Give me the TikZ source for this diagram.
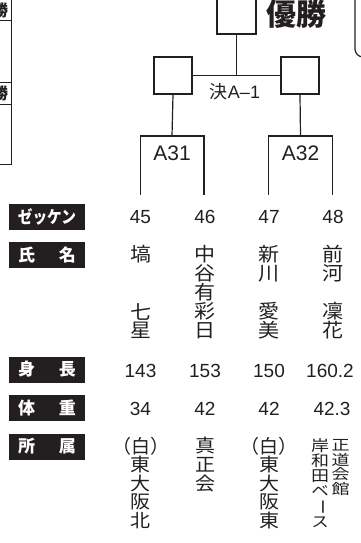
\documentclass[tikz,border=0pt]{standalone}
\usepackage{fontspec}
\setmainfont{Liberation Sans}
\newfontfamily\jp{Noto Sans CJK JP}
\newfontfamily\jpv[RawFeature=+vert]{Noto Sans CJK JP}
\definecolor{ink}{HTML}{231F20}
% name, x, y of first centre, step, font size, vertical scale, list
\newcommand{\vcol}[7]{%
  \foreach \ch [count=\i from 0] in {#7} {%
    \node[vch, font=\jpv\fontsize{#5}{#5}\selectfont] (#1-\i) at (#2, #3+\i*#4) {\scalebox{1}[#6]{\ch}};}}
\newcommand{\vbar}{\rotatebox[origin=c]{-90}{\jp ー}}
\begin{document}
\begin{tikzpicture}[x=1pt,y=-1pt, line width=1.2pt, draw=ink, text=ink,
  sq/.style={draw, minimum width=38pt, minimum height=37pt, inner sep=0pt},
  lab/.style={fill=ink, text=white, minimum width=76pt, minimum height=26pt, inner sep=0pt,
    font=\jp\bfseries\fontsize{17}{17}\selectfont},
  num/.style={inner sep=0pt, font=\fontsize{19}{19}\selectfont},
  vch/.style={inner sep=0pt},
  thin/.style={line width=1pt}]
\useasboundingbox (0,0) rectangle (360,543);

% partial table at the left edge
\draw[thin] (-10,164) -- (11,164) -- (11,-10);
\draw[thin] (-10,21) -- (11,21);
\draw[thin] (-10,82) -- (11,82);
\draw[thin] (-10,104) -- (11,104);
\node[inner sep=0pt, font=\jp\bfseries\fontsize{16}{16}\selectfont] (w1) at (0,10) {勝};
\node[inner sep=0pt, font=\jp\bfseries\fontsize{16}{16}\selectfont] (w2) at (0,93) {勝};

% partial rounded box at the right edge
\draw[rounded corners=8pt] (375,57) -- (355,57) -- (355,-10);

% bracket
\node[sq, minimum width=39pt, minimum height=40pt] (top) at (236.5,14) {};
\node[inner sep=0pt, font=\jp\bfseries\fontsize{30}{30}\selectfont] (yusho) at (296,14) {優勝};
\node[sq] (lbox) at (173,75.5) {};
\node[sq] (rbox) at (300,75.5) {};
\draw (lbox) -- (rbox);
\draw (top.south) -- (top.south |- lbox.east);
\node[inner sep=0pt, font=\fontsize{18}{18}\selectfont] (kesshou) at (235,92) {{\jp 決}A–1};

\coordinate (a31top) at (172,136);
\coordinate (a32top) at (300.5,136);
\draw (lbox.south) -- (a31top);
\draw (rbox.south) -- (a32top);
\coordinate (t45) at (140.5,195);
\coordinate (t46) at (204,195);
\coordinate (t47) at (268.5,195);
\coordinate (t48) at (332.5,195);
\draw (t45) |- (a31top) -| (t46);
\draw (t47) |- (a32top) -| (t48);
\node[inner sep=0pt, font=\fontsize{21}{21}\selectfont] (a31) at (172,153) {A31};
\node[inner sep=0pt, font=\fontsize{21}{21}\selectfont] (a32) at (300.5,153) {A32};

% row labels
\node[lab] (lz) at (47,216.5) {\scalebox{0.86}[1]{ゼッケン}};
\node[lab] (ln) at (47,255) {氏\hspace{24pt}名};
\node[lab] (lh) at (47,369.5) {身\hspace{24pt}長};
\node[lab] (lw) at (47,408) {体\hspace{24pt}重};
\node[lab] (la) at (47,446.5) {所\hspace{24pt}属};

% numbers
\node[num] (n45) at (140.5,217) {45};
\node[num] (n46) at (205,217) {46};
\node[num] (n47) at (269,217) {47};
\node[num] (n48) at (333,217) {48};

% names
\vcol{nm1}{140.5}{254.5}{19}{21}{0.92}{塙,{},{},七,星}
\vcol{nm2}{205}{254.5}{19}{21}{0.92}{中,谷,有,彩,日}
\vcol{nm3}{269}{254.5}{19}{21}{0.92}{新,川,{},愛,美}
\vcol{nm4}{333}{254.5}{19}{21}{0.92}{前,河,{},凜,花}

% height
\node[num] (h1) at (140.5,370.5) {143};
\node[num] (h2) at (205,370.5) {153};
\node[num] (h3) at (269,370.5) {150};
\node[num] (h4) at (330,370.5) {160.2};

% weight
\node[num] (g1) at (140.5,408.5) {34};
\node[num] (g2) at (205,408.5) {42};
\node[num] (g3) at (269,408.5) {42};
\node[num] (g4) at (332,408.5) {42.3};

% affiliation
\node[inner sep=0pt, font=\jp\fontsize{19}{19}\selectfont] (p1) at (140.5,446) {（白）};
\vcol{af1}{140.5}{464.6}{18.6}{20}{0.92}{東,大,阪,北}
\vcol{af2}{205}{446}{18.6}{20}{0.92}{真,正,会}
\node[inner sep=0pt, font=\jp\fontsize{19}{19}\selectfont] (p3) at (269,446) {（白）};
\vcol{af3}{269}{464.6}{18.6}{20}{0.92}{東,大,阪,東}
\vcol{af4a}{320}{445.5}{15.3}{18}{0.85}{岸,和,田,ベ,\vbar,ス}
\vcol{af4b}{340.5}{445}{14.6}{18}{0.8}{正,道,会,館}
\end{tikzpicture}
\end{document}
